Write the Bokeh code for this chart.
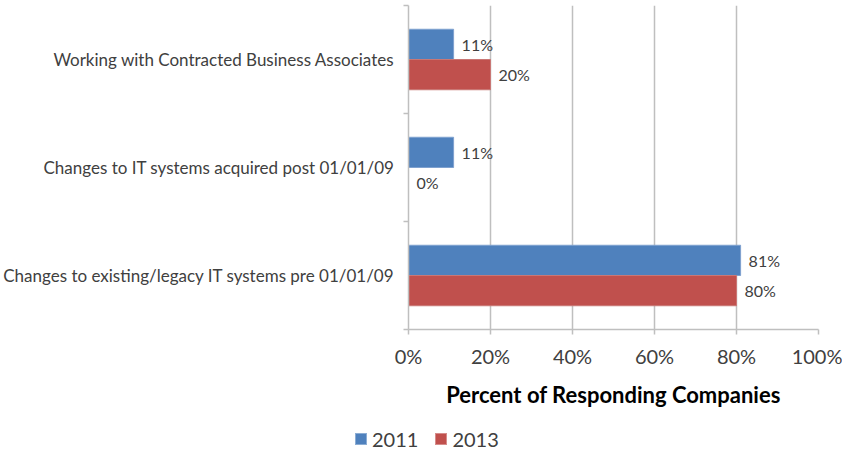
from bokeh.plotting import figure
from bokeh.layouts import column
from bokeh.models import ColumnDataSource, FixedTicker, Div
from bokeh.core.properties import value
from bokeh.embed import file_html
from bokeh.resources import INLINE

categories = [
    "Changes to existing/legacy IT systems pre 01/01/09",
    "Changes to IT systems acquired post 01/01/09",
    "Working with Contracted Business Associates",
]
series_names = ["2011", "2013"]
values_2011 = [81, 11, 11]
values_2013 = [80, 0, 20]
x_ticks = [0, 20, 40, 60, 80, 100]
x_tick_labels = ["0%", "20%", "40%", "60%", "80%", "100%"]
axis_title = "Percent of Responding Companies"

FONT = "Lato"
BLUE = "#4F81BD"
RED = "#C0504D"
TXT = "#404040"
GRID = "#BFBFBF"
series_colors = [BLUE, RED]

centers = [i + 0.5 for i in range(len(categories))]
offset = 0.14
bar_h = 0.28

src11 = ColumnDataSource(dict(
    y=[c + offset for c in centers], v=values_2011,
    lab=[f"{v}%" for v in values_2011]))
src13 = ColumnDataSource(dict(
    y=[c - offset for c in centers], v=values_2013,
    lab=[f"{v}%" for v in values_2013]))

p = figure(width=842, height=410, output_backend="svg", toolbar_location=None,
           x_range=(0, 100), y_range=(0, len(categories)),
           min_border_left=407, min_border_right=24, min_border_top=5,
           min_border_bottom=80)
p.outline_line_color = None
p.background_fill_color = "white"
p.border_fill_color = "white"

p.hbar(y="y", right="v", left=0, height=bar_h, source=src11,
       fill_color=BLUE, line_color="#7fa1cf", line_width=1)
p.hbar(y="y", right="v", left=0, height=bar_h, source=src13,
       fill_color=RED, line_color="#c97775", line_width=1)

for src in (src11, src13):
    p.text(x="v", y="y", text="lab", source=src, x_offset=8,
           text_baseline="middle", text_align="left",
           text_font=value(FONT), text_font_size="16px", text_color=TXT)

# x axis
p.xaxis.ticker = FixedTicker(ticks=x_ticks)
p.xaxis.major_label_overrides = {t: l for t, l in zip(x_ticks, x_tick_labels)}
p.xaxis.major_label_text_font = FONT
p.xaxis.major_label_text_font_size = "20px"
p.xaxis.major_label_text_color = TXT
p.xaxis.major_label_standoff = 9
p.xaxis.axis_line_color = GRID
p.xaxis.axis_line_width = 1.5
p.xaxis.major_tick_line_color = GRID
p.xaxis.major_tick_line_width = 1.5
p.xaxis.major_tick_in = 0
p.xaxis.major_tick_out = 5
p.xaxis.minor_tick_line_color = None
p.xaxis.axis_label = axis_title
p.xaxis.axis_label_text_font = FONT
p.xaxis.axis_label_text_font_style = "bold"
p.xaxis.axis_label_text_font_size = "22px"
p.xaxis.axis_label_text_color = "#000000"
p.xaxis.axis_label_standoff = 10

# y axis
p.yaxis.ticker = FixedTicker(ticks=centers, minor_ticks=list(range(len(categories) + 1)))
p.yaxis.major_label_overrides = {c: l for c, l in zip(centers, categories)}
p.yaxis.major_label_text_font = FONT
p.yaxis.major_label_text_font_size = "17px"
p.yaxis.major_label_text_color = TXT
p.yaxis.major_label_standoff = 9
p.yaxis.major_tick_line_color = None
p.yaxis.major_tick_in = 0
p.yaxis.major_tick_out = 0
p.yaxis.minor_tick_line_color = GRID
p.yaxis.minor_tick_line_width = 1.5
p.yaxis.minor_tick_in = 0
p.yaxis.minor_tick_out = 5
p.yaxis.axis_line_color = GRID
p.yaxis.axis_line_width = 1.5

p.xgrid.ticker = FixedTicker(ticks=x_ticks)
p.xgrid.grid_line_color = GRID
p.xgrid.grid_line_width = 1.5
p.ygrid.grid_line_color = None

# legend strip (below the chart, centred on the whole figure)
items_html = "".join(
    f'<span style="display:inline-flex;align-items:center;margin-right:17px;">'
    f'<span style="display:inline-block;width:12px;height:12px;background:{c};'
    f'border:1px solid rgba(255,255,255,0.35);box-sizing:border-box;margin-right:5px;"></span>'
    f'<span>{n}</span></span>'
    for n, c in zip(series_names, series_colors))
legend_div = Div(
    text=(f'<div style="position:absolute;left:355px;top:15px;white-space:nowrap;'
          f'font-family:{FONT};font-size:20px;line-height:24px;color:{TXT};">'
          f'{items_html}</div>'),
    width=842, height=43, margin=0,
    styles={"position": "relative", "overflow": "visible"})

layout = column(p, legend_div, spacing=0)
open("out.html", "w").write(file_html(layout, INLINE))
